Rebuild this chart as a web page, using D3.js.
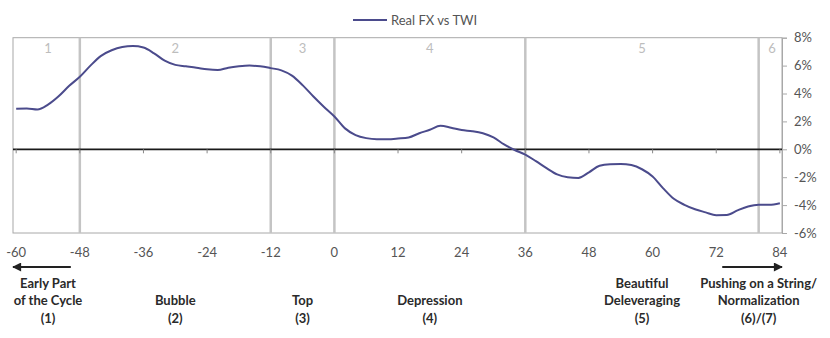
<!DOCTYPE html>
<html>
<head>
<meta charset="utf-8">
<script src="https://cdn.jsdelivr.net/npm/d3@7/dist/d3.min.js"></script>
<style>
  html, body { margin: 0; padding: 0; background: #fff; }
  svg { display: block; }
  text { font-family: Lato, "Open Sans", sans-serif; }
</style>
</head>
<body>
<svg id="chart" width="830" height="338"></svg>
<script>
// Months relative to the top of the cycle, and the real FX rate vs TWI (%)
const months = [-60,-58,-56,-54,-52,-50,-48,-46,-44,-42,-40,-38,-36,-34,-32,-30,-28,-26,-24,-22,-20,-18,-16,-14,-12,-10,-8,-6,-4,-2,
  0,2,4,6,8,10,12,14,16,18,20,22,24,26,28,30,32,34,36,38,40,42,44,46,48,50,52,54,56,58,60,62,64,66,68,70,72,74,76,78,80,82,84];
const realFx = [2.9,2.92,2.85,3.2,3.8,4.55,5.2,6.0,6.7,7.1,7.33,7.4,7.3,6.88,6.35,6.05,5.95,5.85,5.73,5.68,5.85,5.95,6.0,5.95,5.82,5.66,5.28,4.6,3.8,3.05,
  2.35,1.5,1.02,0.8,0.72,0.72,0.77,0.85,1.15,1.4,1.68,1.55,1.38,1.3,1.15,0.85,0.35,-0.05,-0.38,-0.85,-1.35,-1.8,-2.0,-2.05,-1.65,-1.18,-1.07,-1.05,-1.13,-1.43,-1.95,-2.8,-3.55,-3.98,-4.3,-4.52,-4.72,-4.71,-4.38,-4.1,-3.97,-3.98,-3.87];

const seriesName = "Real FX vs TWI";
const xTicks = [-60,-48,-36,-24,-12,0,12,24,36,48,60,72,84];
const yTicks = [8,6,4,2,0,-2,-4,-6];

// Phase boundaries (months) and the phase numbers shown along the top
const phaseBounds = [-48,-12,0,36,80];
const phaseNums = ["1","2","3","4","5","6"];
const phaseNumAt = [-54,-30,-6,18,58,82.5];

// Phase descriptions under the axis
const phaseLabels = [
  {at: -54, lines: ["Early Part", "of the Cycle", "(1)"]},
  {at: -30, lines: ["Bubble", "(2)"]},
  {at: -6,  lines: ["Top", "(3)"]},
  {at: 18,  lines: ["Depression", "(4)"]},
  {at: 58,  lines: ["Beautiful", "Deleveraging", "(5)"]},
  {at: 80,  lines: ["Pushing on a String/", "Normalization", "(6)/(7)"]}
];

const svg = d3.select("#chart");
const plotL = 13, plotR = 782, plotT = 37.7, plotB = 233;

const x = d3.scaleLinear().domain([-60.6, 84.4]).range([plotL, plotR]);
const y = d3.scaleLinear().domain([-6, 8]).range([plotB, plotT]);

const defs = svg.append("defs");
defs.append("marker").attr("id", "arrow").attr("viewBox", "0 0 10 10")
  .attr("refX", 9).attr("refY", 5).attr("markerWidth", 12).attr("markerHeight", 9)
  .attr("markerUnits", "userSpaceOnUse").attr("orient", "auto")
  .append("path").attr("d", "M0,0 L10,5 L0,10 Z").attr("fill", "#222");

// Plot frame
svg.append("rect").attr("x", plotL).attr("y", plotT)
  .attr("width", plotR - plotL).attr("height", plotB - plotT)
  .attr("fill", "none").attr("stroke", "#a8a8a8").attr("stroke-width", 1);

// Phase boundary lines
svg.append("g").selectAll("line").data(phaseBounds).join("line")
  .attr("x1", d => x(d)).attr("x2", d => x(d))
  .attr("y1", plotT).attr("y2", plotB)
  .attr("stroke", "#c4c4c4").attr("stroke-width", 2.5);

// Phase numbers
svg.append("g").selectAll("text").data(phaseNums).join("text")
  .attr("x", (d, i) => x(phaseNumAt[i])).attr("y", 52.5)
  .attr("text-anchor", "middle").attr("font-size", 13)
  .attr("fill", "#bdbdbd").text(d => d);

// Zero line with month ticks
svg.append("line").attr("x1", plotL).attr("x2", plotR)
  .attr("y1", y(0)).attr("y2", y(0))
  .attr("stroke", "#1a1a1a").attr("stroke-width", 1.8);
svg.append("g").selectAll("line").data(xTicks).join("line")
  .attr("x1", d => x(d)).attr("x2", d => x(d))
  .attr("y1", y(0)).attr("y2", y(0) + 4)
  .attr("stroke", "#888").attr("stroke-width", 1);

// Month labels below the frame
svg.append("g").selectAll("text").data(xTicks).join("text")
  .attr("x", d => x(d)).attr("y", 256.5)
  .attr("text-anchor", "middle").attr("font-size", 13)
  .attr("fill", "#555").text(d => d);

// Right-hand percentage axis
const yAxis = d3.axisRight(y).tickValues(yTicks).tickSize(5).tickPadding(7)
  .tickFormat(d => d + "%");
const gy = svg.append("g").attr("transform", `translate(${plotR},0)`).call(yAxis);
gy.select(".domain").attr("stroke", "#a8a8a8");
gy.selectAll(".tick line").attr("stroke", "#a8a8a8");
gy.selectAll(".tick text").attr("font-size", 13).attr("fill", "#555")
  .attr("font-family", "Lato, 'Open Sans', sans-serif");

// Series line
const line = d3.line().x((d, i) => x(months[i])).y(d => y(d)).curve(d3.curveMonotoneX);
svg.append("path").datum(realFx).attr("d", line)
  .attr("fill", "none").attr("stroke", "#4b4b8c").attr("stroke-width", 2);

// Legend
svg.append("line").attr("x1", 353).attr("x2", 387).attr("y1", 20).attr("y2", 20)
  .attr("stroke", "#4b4b8c").attr("stroke-width", 2);
svg.append("text").attr("x", 391).attr("y", 24.5).attr("font-size", 13)
  .attr("fill", "#555").text(seriesName);

// Direction arrows
svg.append("line").attr("x1", x(-48) - 9).attr("x2", plotL).attr("y1", 267).attr("y2", 267)
  .attr("stroke", "#222").attr("stroke-width", 2).attr("marker-end", "url(#arrow)");
svg.append("line").attr("x1", x(72) + 6).attr("x2", plotR).attr("y1", 267).attr("y2", 267)
  .attr("stroke", "#222").attr("stroke-width", 2).attr("marker-end", "url(#arrow)");

// Phase descriptions
const lg = svg.append("g");
phaseLabels.forEach(p => {
  const n = p.lines.length;
  p.lines.forEach((t, j) => {
    lg.append("text").attr("x", x(p.at)).attr("y", 322.5 - (n - 1 - j) * 17.5)
      .attr("text-anchor", "middle").attr("font-size", 13).attr("font-weight", "bold")
      .attr("fill", "#2a2a2a").text(t);
  });
});
</script>
</body>
</html>
